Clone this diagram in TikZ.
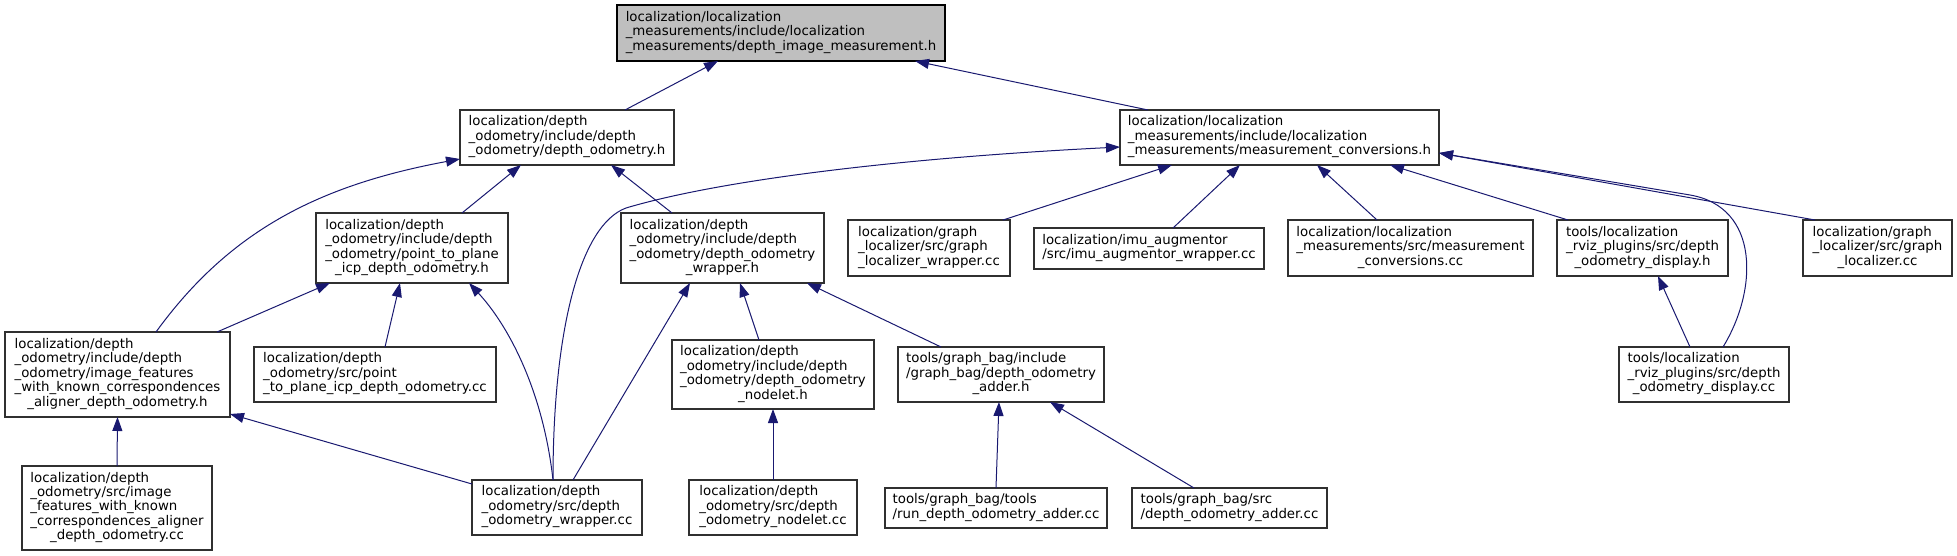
\documentclass[tikz,border=0pt]{standalone}
\usepackage{fontspec}
\setmainfont{DejaVu Sans}
\usetikzlibrary{arrows.meta}
\definecolor{edgeblue}{HTML}{191970}
\definecolor{boxline}{HTML}{303030}
\definecolor{topfill}{HTML}{BFBFBF}
\newcommand{\lastln}[1]{\multicolumn{1}{@{}c@{}}{#1}}
\newcommand{\lbl}[1]{\begin{tabular}{@{}l@{}}#1\end{tabular}}
\tikzset{
  filebox/.style={draw=boxline, fill=white, line width=1.3pt, inner sep=0pt, outer sep=0pt,
    font=\fontsize{13.33}{14.4}\selectfont},
  topbox/.style={filebox, draw=black, fill=topfill},
  dep/.style={draw=edgeblue, line width=1pt,
    -{Triangle[length=14pt,width=10pt,fill=edgeblue]}},
}
\begin{document}
\begin{tikzpicture}[x=1pt,y=-1pt]
\useasboundingbox (0,0) rectangle (1957,556);
% row 0
\node[topbox, minimum width=328pt, minimum height=56pt] (A) at (781,33)
  {\lbl{localization/localization\\\_measurements/include/localization\\\lastln{\_measurements/depth\_image\_measurement.h}}};
% row 1
\node[filebox, minimum width=214pt, minimum height=55pt] (B) at (567,137.5)
  {\lbl{localization/depth\\\_odometry/include/depth\\\lastln{\_odometry/depth\_odometry.h}}};
\node[filebox, minimum width=319pt, minimum height=55pt] (C) at (1279.5,137.5)
  {\lbl{localization/localization\\\_measurements/include/localization\\\lastln{\_measurements/measurement\_conversions.h}}};
% row 2
\node[filebox, minimum width=192pt, minimum height=70pt] (D) at (412,248)
  {\lbl{localization/depth\\\_odometry/include/depth\\\_odometry/point\_to\_plane\\\lastln{\_icp\_depth\_odometry.h}}};
\node[filebox, minimum width=203pt, minimum height=70pt] (E) at (722.5,248)
  {\lbl{localization/depth\\\_odometry/include/depth\\\_odometry/depth\_odometry\\\lastln{\_wrapper.h}}};
\node[filebox, minimum width=162pt, minimum height=56pt] (F) at (929,248)
  {\lbl{localization/graph\\\_localizer/src/graph\\\lastln{\_localizer\_wrapper.cc}}};
\node[filebox, minimum width=230pt, minimum height=41pt] (G) at (1149,248.5)
  {\lbl{localization/imu\_augmentor\\\lastln{/src/imu\_augmentor\_wrapper.cc}}};
\node[filebox, minimum width=245pt, minimum height=56pt] (H) at (1410.5,248)
  {\lbl{localization/localization\\\_measurements/src/measurement\\\lastln{\_conversions.cc}}};
\node[filebox, minimum width=171pt, minimum height=56pt] (I) at (1642.5,248)
  {\lbl{tools/localization\\\_rviz\_plugins/src/depth\\\lastln{\_odometry\_display.h}}};
\node[filebox, minimum width=149pt, minimum height=56pt] (J) at (1877.5,248)
  {\lbl{localization/graph\\\_localizer/src/graph\\\lastln{\_localizer.cc}}};
% row 3
\node[filebox, minimum width=225pt, minimum height=85pt] (K) at (117.5,374.5)
  {\lbl{localization/depth\\\_odometry/include/depth\\\_odometry/image\_features\\\_with\_known\_correspondences\\\lastln{\_aligner\_depth\_odometry.h}}};
\node[filebox, minimum width=242pt, minimum height=55pt] (L) at (375,374.5)
  {\lbl{localization/depth\\\_odometry/src/point\\\lastln{\_to\_plane\_icp\_depth\_odometry.cc}}};
\node[filebox, minimum width=202pt, minimum height=69pt] (M) at (773,374.5)
  {\lbl{localization/depth\\\_odometry/include/depth\\\_odometry/depth\_odometry\\\lastln{\_nodelet.h}}};
\node[filebox, minimum width=206pt, minimum height=55pt] (N) at (1001,374.5)
  {\lbl{tools/graph\_bag/include\\/graph\_bag/depth\_odometry\\\lastln{\_adder.h}}};
\node[filebox, minimum width=170pt, minimum height=55pt] (O) at (1704,374.5)
  {\lbl{tools/localization\\\_rviz\_plugins/src/depth\\\lastln{\_odometry\_display.cc}}};
% row 4
\node[filebox, minimum width=190pt, minimum height=84pt] (P) at (117,508)
  {\lbl{localization/depth\\\_odometry/src/image\\\_features\_with\_known\\\_correspondences\_aligner\\\lastln{\_depth\_odometry.cc}}};
\node[filebox, minimum width=170pt, minimum height=55pt] (Q) at (557,507.5)
  {\lbl{localization/depth\\\_odometry/src/depth\\\lastln{\_odometry\_wrapper.cc}}};
\node[filebox, minimum width=168pt, minimum height=55pt] (R) at (773,507.5)
  {\lbl{localization/depth\\\_odometry/src/depth\\\lastln{\_odometry\_nodelet.cc}}};
\node[filebox, minimum width=222pt, minimum height=40pt] (S) at (996,508)
  {\lbl{tools/graph\_bag/tools\\\lastln{/run\_depth\_odometry\_adder.cc}}};
\node[filebox, minimum width=195pt, minimum height=40pt] (T) at (1229.5,508)
  {\lbl{tools/graph\_bag/src\\\lastln{/depth\_odometry\_adder.cc}}};
% edges
\draw[dep] ([xshift=58pt]B.north) -- ([xshift=-63pt]A.south);
\draw[dep] ([xshift=-131.5pt]C.north) -- ([xshift=134pt]A.south);
\draw[dep] ([xshift=50pt]D.north) -- ([xshift=-46pt]B.south);
\draw[dep] ([xshift=-50.5pt]E.north) -- ([xshift=44pt]B.south);
\draw[dep] ([xshift=38.5pt]K.north) .. controls (230,230) and (320,185) .. ([yshift=-21.5pt]B.west);
\draw[dep] ([xshift=99.5pt]K.north) -- ([xshift=-82pt]D.south);
\draw[dep] ([xshift=10pt]L.north) -- ([xshift=-12pt]D.south);
\draw[dep] ([xshift=-4pt]Q.north) .. controls (543,390) and (508,325) .. ([xshift=57pt]D.south);
\draw[dep] ([xshift=-4pt]Q.north) .. controls (553,330) and (580,225) .. (626,208)
  .. controls (720,180) and (900,158) .. ([yshift=-9.5pt]C.west);
\draw[dep] ([yshift=23.5pt]Q.west) -- ([yshift=-39.5pt]K.east);
\draw[dep] (P.north) -- (K.south);
\draw[dep] ([xshift=16pt]Q.north) -- ([xshift=-32.5pt]E.south);
\draw[dep] ([xshift=-14pt]M.north) -- ([xshift=17.5pt]E.south);
\draw[dep] ([xshift=-60pt]N.north) -- ([xshift=84.5pt]E.south);
\draw[dep] (R.north) -- (M.south);
\draw[dep] (S.north) -- ([xshift=-2pt]N.south);
\draw[dep] ([xshift=-35.5pt]T.north) -- ([xshift=49pt]N.south);
\draw[dep] ([xshift=74pt]F.north) -- ([xshift=-107.5pt]C.south);
\draw[dep] ([xshift=24pt]G.north) -- ([xshift=-39.5pt]C.south);
\draw[dep] ([xshift=-33.5pt]H.north) -- ([xshift=37.5pt]C.south);
\draw[dep] ([xshift=-74.5pt]I.north) -- ([xshift=110.5pt]C.south);
\draw[dep] ([xshift=19pt]O.north) .. controls (1758,290) and (1760,207) .. (1690,195) -- ([yshift=-15.5pt]C.east);
\draw[dep] ([xshift=-62.5pt]J.north) -- ([yshift=-15.5pt]C.east);
\draw[dep] ([xshift=-14pt]O.north) -- ([xshift=15.5pt]I.south);
\end{tikzpicture}
\end{document}
